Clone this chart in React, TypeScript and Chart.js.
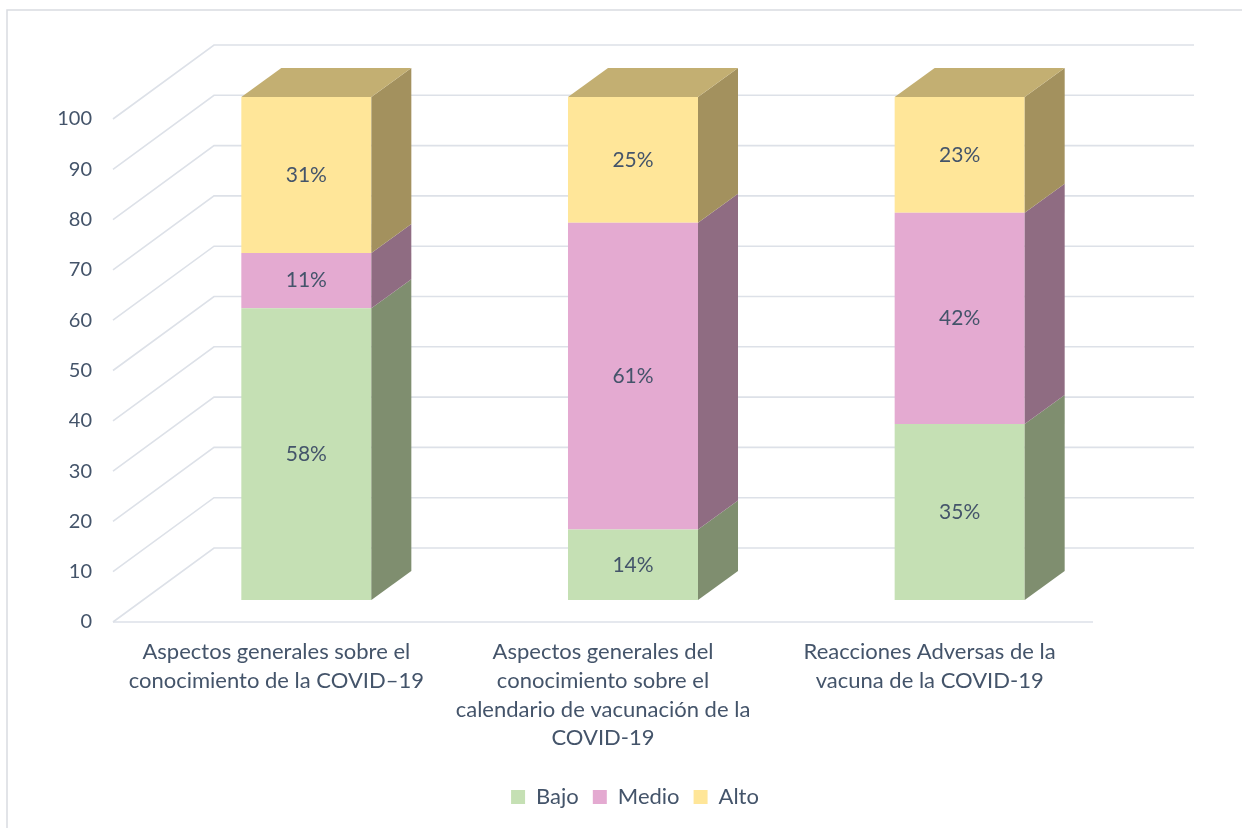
import React, { useEffect, useRef } from "react";
import { Chart, registerables } from "chart.js";

Chart.register(...registerables);

const categories: string[][] = [
  ["Aspectos generales sobre el", "conocimiento de la COVID–19"],
  ["Aspectos generales del", "conocimiento sobre el", "calendario de vacunación de la", "COVID-19"],
  ["Reacciones Adversas de la", "vacuna de la COVID-19"],
];
const bajo = [58, 14, 35];
const medio = [11, 61, 42];
const alto = [31, 25, 23];
const seriesNames = ["Bajo", "Medio", "Alto"];
const frontColors = ["#C5E0B4", "#E4AAD1", "#FFE699"];
const sideColors = ["#7F8E6F", "#8F6C82", "#A3915E"];
const topColor = "#C3AF72";
const textColor = "#44546A";
const gridColor = "#DDE1E8";
const FONT = "Lato, 'Open Sans', sans-serif";

// 3D projection offsets (pixels)
const FRONT_DX = 30;
const FRONT_DY = -22;
const DEPTH_DX = 40;
const DEPTH_DY = -29;
const WALL_DX = 101;
const WALL_DY = -74;

const threeD = {
  id: "threeD",
  beforeDraw(chart: any) {
    const ctx = chart.ctx;
    ctx.save();
    ctx.strokeStyle = "#D9DCE1";
    ctx.lineWidth = 1.5;
    ctx.strokeRect(7, 10, 1400, 1000);
    ctx.restore();
  },
  beforeDatasetsDraw(chart: any) {
    const ctx = chart.ctx;
    const y = chart.scales.y;
    const area = chart.chartArea;
    ctx.save();
    ctx.strokeStyle = gridColor;
    ctx.lineWidth = 1.6;
    y.ticks.forEach((t: any) => {
      const py = y.getPixelForValue(t.value);
      ctx.beginPath();
      ctx.moveTo(area.left, py);
      ctx.lineTo(area.left + WALL_DX, py + WALL_DY);
      ctx.lineTo(area.right + WALL_DX, py + WALL_DY);
      ctx.stroke();
    });
    const p0 = y.getPixelForValue(0);
    ctx.beginPath();
    ctx.moveTo(area.left, p0);
    ctx.lineTo(area.right, p0);
    ctx.stroke();
    ctx.restore();
    ctx.save();
    ctx.translate(FRONT_DX, FRONT_DY);
  },
  afterDatasetsDraw(chart: any) {
    const ctx = chart.ctx;
    ctx.restore();
    const n = chart.data.datasets.length;
    ctx.save();
    for (let d = 0; d < n; d++) {
      const meta = chart.getDatasetMeta(d);
      meta.data.forEach((bar: any) => {
        const { x, y, base, width } = bar.getProps(["x", "y", "base", "width"], true);
        const xl = x - width / 2 + FRONT_DX;
        const xr = x + width / 2 + FRONT_DX;
        const yt = y + FRONT_DY;
        const yb = base + FRONT_DY;
        ctx.fillStyle = sideColors[d];
        ctx.beginPath();
        ctx.moveTo(xr, yb);
        ctx.lineTo(xr + DEPTH_DX, yb + DEPTH_DY);
        ctx.lineTo(xr + DEPTH_DX, yt + DEPTH_DY);
        ctx.lineTo(xr, yt);
        ctx.closePath();
        ctx.fill();
        if (d === n - 1) {
          ctx.fillStyle = topColor;
          ctx.beginPath();
          ctx.moveTo(xl, yt);
          ctx.lineTo(xl + DEPTH_DX, yt + DEPTH_DY);
          ctx.lineTo(xr + DEPTH_DX, yt + DEPTH_DY);
          ctx.lineTo(xr, yt);
          ctx.closePath();
          ctx.fill();
        }
      });
    }
    // data labels
    ctx.fillStyle = textColor;
    ctx.font = `21px ${FONT}`;
    ctx.textAlign = "center";
    ctx.textBaseline = "middle";
    for (let d = 0; d < n; d++) {
      const meta = chart.getDatasetMeta(d);
      const vals = chart.data.datasets[d].data;
      meta.data.forEach((bar: any, i: number) => {
        const { x, y, base } = bar.getProps(["x", "y", "base"], true);
        ctx.fillText(`${vals[i]}%`, x + FRONT_DX, (y + base) / 2 + FRONT_DY);
      });
    }
    ctx.restore();
  },
};

export default function App() {
  const ref = useRef<HTMLCanvasElement | null>(null);
  useEffect(() => {
    document.body.style.margin = "0";
    const canvas = ref.current!;
    const seriesValues = [bajo, medio, alto];
    const chart = new Chart(canvas, {
      type: "bar",
      data: {
        labels: categories as any,
        datasets: seriesValues.map((vals, i) => ({
          label: seriesNames[i],
          data: vals,
          backgroundColor: frontColors[i],
          borderWidth: 0,
          categoryPercentage: 1,
          barPercentage: 0.398,
        })),
      },
      options: {
        responsive: false,
        animation: false,
        layout: { padding: { left: 28, right: 0, top: 119, bottom: 10 } },
        plugins: {
          legend: {
            position: "bottom",
            labels: {
              color: textColor,
              font: { size: 22, family: FONT },
              boxWidth: 14,
              boxHeight: 14,
              padding: 14,
            },
          },
          tooltip: { enabled: false },
        },
        scales: {
          x: {
            stacked: true,
            grid: { display: false, drawTicks: false },
            border: { display: false },
            ticks: {
              color: textColor,
              font: { size: 22, family: FONT, lineHeight: 1.3 },
              padding: 16,
              maxRotation: 0,
              autoSkip: false,
            },
            afterFit: (s: any) => {
              s.height = 150;
            },
          },
          y: {
            stacked: true,
            min: 0,
            max: 100,
            grid: { display: false, drawTicks: false },
            border: { display: false },
            ticks: {
              stepSize: 10,
              color: textColor,
              font: { size: 20, family: FONT },
              padding: 21,
            },
            afterFit: (s: any) => {
              s.width = 85;
            },
          },
          yRight: {
            position: "right",
            display: true,
            grid: { display: false, drawTicks: false },
            border: { display: false },
            ticks: { display: false },
            afterFit: (s: any) => {
              s.width = 149;
            },
          },
        },
      },
      plugins: [threeD],
    });
    return () => chart.destroy();
  }, []);
  return (
    <div style={{ width: 1242, height: 828 }}>
      <canvas ref={ref} width={1242} height={828} />
    </div>
  );
}
